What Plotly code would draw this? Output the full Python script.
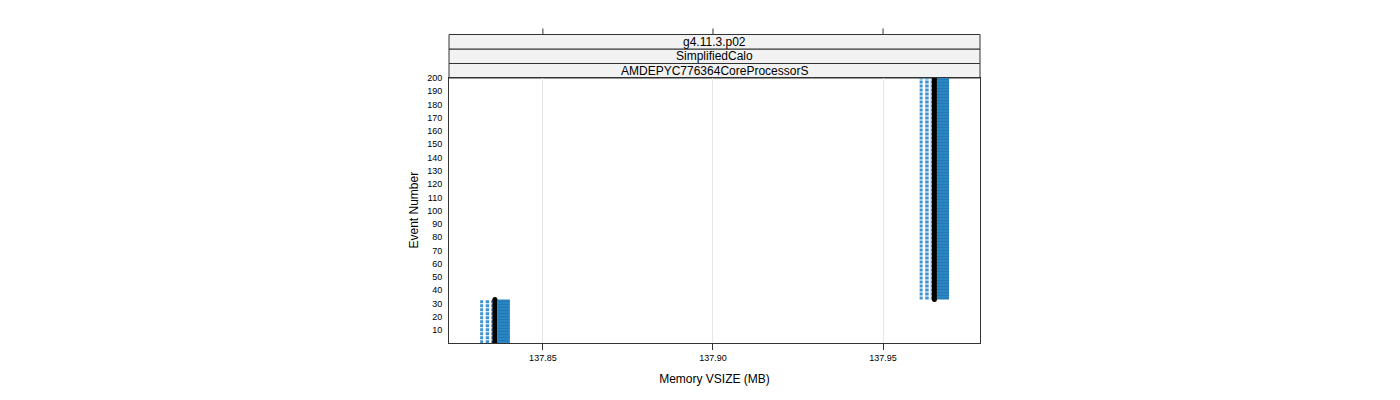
import plotly.graph_objects as go

# ---- data ----
strip_labels = ["g4.11.3.p02", "SimplifiedCalo", "AMDEPYC776364CoreProcessorS"]
event_from = [0, 33]
event_to = [33, 200]
vsize_a = [137.8320, 137.9612]      # light dotted column 1
vsize_b = [137.8337, 137.9629]      # light dotted column 2
vsize_c = [137.8351, 137.9643]      # light dotted column 3
vsize_med = [137.8359, 137.9651]    # black
vsize_lo = [137.8367, 137.9658]     # dark band low
vsize_hi = [137.8403, 137.9694]     # dark band high
x_ticks = [137.85, 137.90, 137.95]
x_ticklabels = ["137.85", "137.90", "137.95"]
y_ticks = list(range(10, 201, 10))

fig = go.Figure()

# dark blue striped band
for i in range(len(event_from)):
    fig.add_trace(go.Scatter(
        x=[vsize_lo[i], vsize_hi[i], vsize_hi[i], vsize_lo[i], vsize_lo[i]],
        y=[event_from[i], event_from[i], event_to[i], event_to[i], event_from[i]],
        mode="lines", fill="toself", fillcolor="#2a86c2",
        fillpattern=dict(shape="-", fgcolor="#1b6aa3", bgcolor="#2a86c2", size=3, solidity=0.35),
        line=dict(width=0, color="#2a86c2"), hoverinfo="skip", showlegend=False))

# light dotted columns
for series, w in ((vsize_a, 3), (vsize_b, 3.5), (vsize_c, 2)):
    for i in range(len(event_from)):
        fig.add_trace(go.Scatter(
            x=[series[i], series[i]], y=[event_from[i], event_to[i]],
            mode="lines", line=dict(color="#3f93cf", width=w, dash="3px,1px"),
            hoverinfo="skip", showlegend=False))

# black median line
for i in range(len(event_from)):
    fig.add_trace(go.Scatter(
        x=[vsize_med[i], vsize_med[i]], y=[event_from[i], event_to[i]],
        mode="lines+markers", line=dict(color="black", width=5),
        marker=dict(color="black", size=5), hoverinfo="skip", showlegend=False))

# strips
strip_h = 14.5 / 265.0
shapes = []
annotations = []
for k, lab in enumerate(reversed(strip_labels)):
    y0 = 1 + k * strip_h
    y1 = y0 + strip_h
    shapes.append(dict(type="rect", xref="paper", yref="paper", x0=0, x1=1, y0=y0, y1=y1,
                       fillcolor="#f2f2f2", line=dict(color="#333333", width=1), layer="below"))
    annotations.append(dict(text=lab, xref="paper", yref="paper", x=0.5, y=(y0 + y1) / 2,
                            showarrow=False, font=dict(size=12, color="black"),
                            xanchor="center", yanchor="middle"))
# top tick marks above strips
top = 1 + 3 * strip_h
for xt in x_ticks:
    shapes.append(dict(type="line", xref="x", yref="paper", x0=xt, x1=xt,
                       y0=top, y1=top + 6 / 265.0, line=dict(color="#333333", width=1)))

annotations.append(dict(text="Event Number", xref="paper", yref="paper", x=-36 / 531, y=0.5,
                        textangle=-90, showarrow=False, font=dict(size=12, color="black"),
                        xanchor="center", yanchor="middle"))

fig.update_layout(
    width=1400, height=400,
    margin=dict(l=441, r=428, t=70, b=65),
    paper_bgcolor="white", plot_bgcolor="white",
    font=dict(family="Liberation Sans, Arial, sans-serif", color="black"),
    shapes=shapes, annotations=annotations,
    xaxis=dict(range=[137.8224, 137.9785], tickvals=x_ticks, ticktext=x_ticklabels,
               ticks="outside", ticklen=6, tickcolor="#333333", tickfont=dict(size=9),
               showgrid=True, gridcolor="#e6e6e6", gridwidth=1, zeroline=False,
               showline=True, linecolor="#333333", mirror=True,
               title=dict(text="Memory VSIZE (MB)", font=dict(size=12), standoff=12)),
    yaxis=dict(range=[0.2, 200], tickvals=y_ticks, ticks="", tickfont=dict(size=9),
               showgrid=False, zeroline=False, showline=True, linecolor="#333333", mirror=True,
               ticklabelstandoff=4),
)

fig.write_html("out.html")
